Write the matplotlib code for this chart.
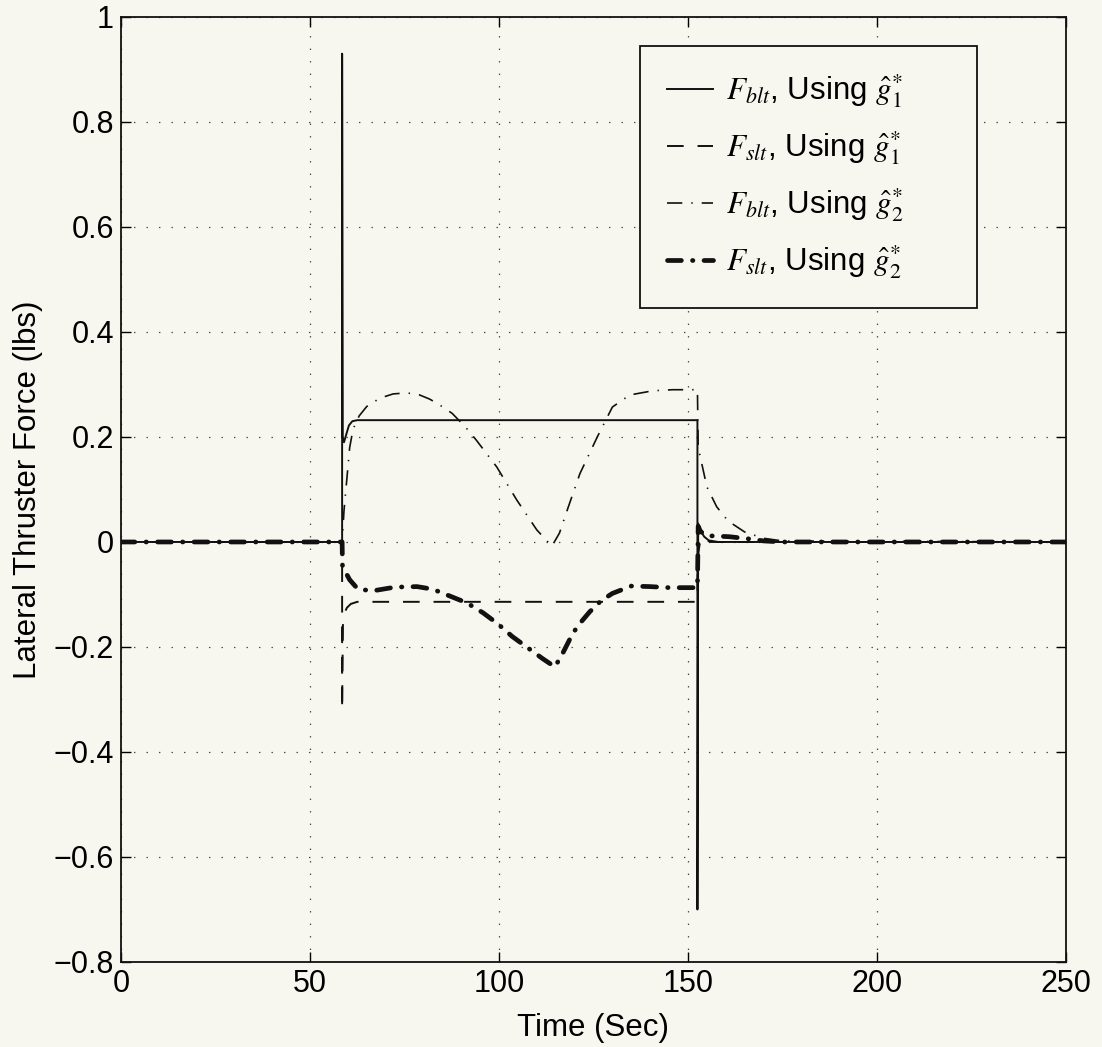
import matplotlib
matplotlib.use("Agg")
import matplotlib.pyplot as plt

plt.rcParams['font.family'] = ['Liberation Sans', 'DejaVu Sans']
plt.rcParams['mathtext.fontset'] = 'stix'
plt.rcParams['lines.scale_dashes'] = False

# ---- data ----
t_blt1 = [0, 58.5, 58.5, 58.65, 59.0, 59.6, 60.3, 61.2, 62.5, 152.5, 152.5, 152.7, 153.3, 154.3, 155.5, 158, 250]
f_blt1 = [0, 0, 0.93, 0.20, 0.19, 0.205, 0.222, 0.23, 0.232, 0.232, -0.70, 0.035, 0.022, 0.01, 0.003, 0, 0]

t_slt1 = [0, 58.5, 58.5, 58.7, 59.1, 59.8, 60.8, 62.5, 152.5, 152.6, 153.3, 154.5, 156, 250]
f_slt1 = [0, 0, -0.32, -0.16, -0.135, -0.125, -0.118, -0.114, -0.114, -0.03, 0.008, 0.004, 0, 0]

t_blt2 = [0, 58.5, 59.0, 59.8, 60.5, 61.4, 63, 65, 68.5, 72, 75.6, 79, 81.7, 84.5, 87.6, 91, 94,
          99.4, 104.7, 110, 114, 116, 118.5, 121.4, 126, 130, 134.6, 140.7, 146, 152.5, 152.7,
          155, 157.6, 160.6, 165, 170, 175, 250]
f_blt2 = [0, 0, 0.06, 0.124, 0.18, 0.215, 0.24, 0.258, 0.274, 0.282, 0.284, 0.28, 0.272, 0.26, 0.245, 0.22, 0.194,
          0.143, 0.08, 0.023, -0.008, 0.017, 0.07, 0.13, 0.2, 0.257, 0.28, 0.288, 0.29, 0.29, 0.18,
          0.105, 0.067, 0.04, 0.019, 0.007, 0.002, 0]

t_slt2 = [0, 58.5, 58.6, 60.5, 62.7, 66.7, 72.5, 78.3, 82.5, 87, 91.5, 95.8, 99.7, 103.5, 107.7, 111.5,
          114.8, 117, 119.6, 122, 124, 127, 130, 135, 140, 145, 152.5, 152.7, 153.3, 155, 161, 166, 170, 175, 250]
f_slt2 = [0, 0, -0.047, -0.072, -0.09, -0.093, -0.086, -0.085, -0.09, -0.103, -0.116, -0.135, -0.156, -0.18, -0.202, -0.222,
          -0.238, -0.21, -0.173, -0.15, -0.133, -0.112, -0.098, -0.084, -0.085, -0.087, -0.087, 0.03, 0.02, 0.012, 0.01, 0.006, 0.002, 0, 0]

labels = [r"$F_{blt}$, Using $\hat{g}^{*}_{1}$",
          r"$F_{slt}$, Using $\hat{g}^{*}_{1}$",
          r"$F_{blt}$, Using $\hat{g}^{*}_{2}$",
          r"$F_{slt}$, Using $\hat{g}^{*}_{2}$"]

xticks = [0, 50, 100, 150, 200, 250]
yticks = [-0.8, -0.6, -0.4, -0.2, 0, 0.2, 0.4, 0.6, 0.8, 1]
ytick_labels = ['\u22120.8', '\u22120.6', '\u22120.4', '\u22120.2', '0', '0.2', '0.4', '0.6', '0.8', '1']

bg = '#f8f7ef'
fig = plt.figure(figsize=(11.02, 10.47), dpi=100, facecolor=bg)
ax = fig.add_axes([0.1098, 0.0812, 0.8575, 0.9026], facecolor=bg)

ax.plot(t_blt1, f_blt1, color='#111111', lw=1.4, ls='-', label=labels[0])
ax.plot(t_slt1, f_slt1, color='#111111', lw=1.4, ls=(0, (12, 10)), label=labels[1])
ax.plot(t_blt2, f_blt2, color='#111111', lw=1.2, ls=(0, (11, 6.5, 1, 6.5)), label=labels[2])
ax.plot(t_slt2, f_slt2, color='#111111', lw=3.4, ls=(0, (10, 8, 0.3, 8)),
        dash_capstyle='round', label=labels[3])

ax.set_xlim(0, 250)
ax.set_ylim(-0.8, 1)
ax.set_xticks(xticks)
ax.set_yticks(yticks)
ax.set_yticklabels(ytick_labels)
ax.tick_params(direction='in', length=7, width=1.0, labelsize=22, top=True, right=True, pad=5)
ax.grid(True, color='#444444', lw=0.9, ls=(0, (1, 8)))
for s in ax.spines.values():
    s.set_linewidth(1.3)
    s.set_color('#111111')

ax.set_xlabel('Time (Sec)', fontsize=22.5, labelpad=10)
ax.set_ylabel('Lateral Thruster Force (lbs)', fontsize=22.5, labelpad=8)

# legend box approx. pixels x 640..977, y 46..311 -> axes fraction
lx0, lx1 = (640 - 121) / 945, (977 - 121) / 945
ly0, ly1 = (962 - 311) / 945, (962 - 46) / 945
leg = ax.legend(loc='upper left', bbox_to_anchor=(lx0, ly0, lx1 - lx0, ly1 - ly0),
                mode='expand', borderaxespad=0, fontsize=22.5,
                fancybox=False, framealpha=1, facecolor=bg, edgecolor='#111111',
                handlelength=1.5, labelspacing=0.62, borderpad=0.85, handletextpad=0.4)
leg.get_frame().set_linewidth(1.3)

fig.savefig('out.png', dpi=100, facecolor=bg)
